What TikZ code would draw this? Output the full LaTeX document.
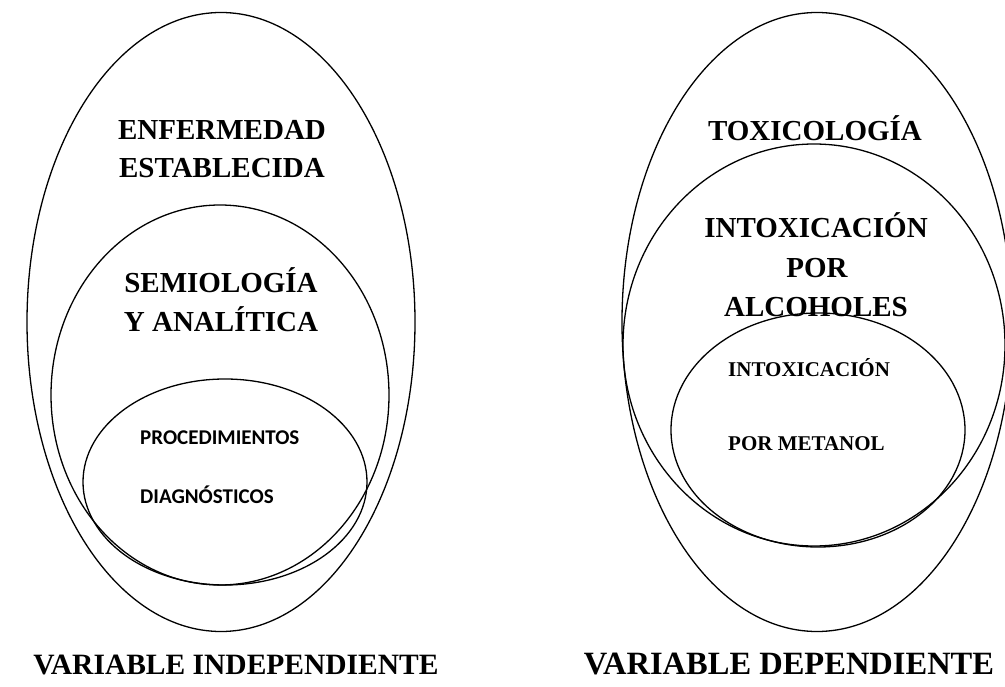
\documentclass[tikz,border=0pt]{standalone}
\usepackage{fontspec}
\setmainfont{Liberation Serif}
\newfontfamily\calibrifont{Carlito}
\usetikzlibrary{shapes.geometric}

\begin{document}
\begin{tikzpicture}[x=1pt, y=-1pt,
    oval/.style={ellipse, draw=black, line width=1.3pt, inner sep=0pt, outer sep=0pt},
    titletext/.style={font=\bfseries\fontsize{29}{35}\selectfont, anchor=base, inner sep=0pt},
    smalltext/.style={font=\bfseries\fontsize{21}{25}\selectfont, anchor=base west, inner sep=0pt},
    proctext/.style={font=\calibrifont\bfseries\fontsize{21}{25}\selectfont, anchor=base west, inner sep=0pt},
    vartext/.style={font=\bfseries\fontsize{29.5}{36}\selectfont, anchor=base, inner sep=0pt}
  ]
  \fill[white] (0,0) rectangle (1005,687);
  \clip (0,0) rectangle (1005,687);

  % variable independiente
  \node (enfermedad) [oval, minimum width=388pt, minimum height=619pt] at (221,322) {};
  \node (semiologia) [oval, minimum width=338pt, minimum height=380pt] at (220,395) {};
  \node (procedim) [oval, minimum width=284pt, minimum height=206pt] at (225,482) {};

  \node (enf1) [titletext] at (222,140) {ENFERMEDAD};
  \node (enf2) [titletext] at (222,178) {ESTABLECIDA};
  \node (sem1) [titletext] at (221,293) {SEMIOLOGÍA};
  \node (sem2) [titletext] at (221,332) {Y ANALÍTICA};
  \node (proc1) [proctext] at (140,444) {PROCEDIMIENTOS};
  \node (proc2) [proctext] at (140,503) {DIAGNÓSTICOS};
  \node (varind) [vartext] at (236,674) {VARIABLE INDEPENDIENTE};

  % variable dependiente
  \node (toxico) [oval, minimum width=390pt, minimum height=619pt] at (817,322) {};
  \node (alcoholes) [oval, minimum width=382pt, minimum height=402pt] at (814,345) {};
  \node (metanol) [oval, minimum width=294pt, minimum height=234pt] at (818,430) {};

  \node (tox1) [titletext] at (815,141) {TOXICOLOGÍA};
  \node (alc1) [titletext] at (816,238) {INTOXICACIÓN};
  \node (alc2) [titletext] at (817,278) {POR};
  \node (alc3) [titletext] at (816,317) {ALCOHOLES};
  \node (met1) [smalltext] at (728,377) {INTOXICACIÓN};
  \node (met2) [smalltext] at (728,450) {POR METANOL};
  \node (vardep) [vartext, font=\bfseries\fontsize{32.5}{38}\selectfont] at (789,674) {VARIABLE DEPENDIENTE};
\end{tikzpicture}
\end{document}
